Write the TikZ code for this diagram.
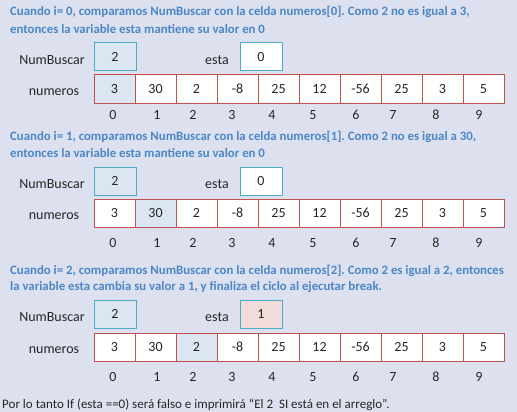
\documentclass[tikz,border=0pt]{standalone}
\usepackage{fontspec}
\setmainfont{Carlito}
\usepackage{tikz}
\usetikzlibrary{positioning}
\frenchspacing

\definecolor{fondo}{RGB}{221,225,239}
\definecolor{azul}{RGB}{74,134,200}
\definecolor{turquesa}{RGB}{75,172,198}
\definecolor{rojo}{RGB}{192,80,77}
\definecolor{celeste}{RGB}{220,230,242}
\definecolor{rosa}{RGB}{242,220,219}
\definecolor{oscuro}{RGB}{38,38,38}

\begin{document}
\begin{tikzpicture}[x=1pt,y=-1pt]
\tikzset{font=\fontsize{14}{16}\selectfont}
\tikzset{every node/.style={text=oscuro}}
\tikzset{celda/.style={draw=rojo, line width=1pt, minimum width=41pt, minimum height=28pt, inner sep=0pt}}
\tikzset{caja/.style={draw=turquesa, line width=1pt, minimum width=42pt, minimum height=28pt, inner sep=0pt}}
\tikzset{titulo/.style={anchor=west, inner sep=0pt, text=azul, font=\bfseries\fontsize{12.8}{15}\selectfont}}
\fill[fondo] (0,0) rectangle (517,412);
\useasboundingbox (0,0) rectangle (517,412);

% enunciados
\node[titulo] (t0a) at (10,12) {Cuando i= 0, comparamos NumBuscar con la celda numeros[0]. Como 2 no es igual a 3,};
\node[titulo] (t0b) at (10,29) {entonces la variable esta mantiene su valor en 0};
\node[titulo] (t1a) at (10,137) {Cuando i= 1, comparamos NumBuscar con la celda numeros[1]. Como 2 no es igual a 30,};
\node[titulo] (t1b) at (10,153) {entonces la variable esta mantiene su valor en 0};
\node[titulo] (t2a) at (10,271) {Cuando i= 2, comparamos NumBuscar con la celda numeros[2]. Como 2 es igual a 2, entonces};
\node[titulo] (t2b) at (10,287) {la variable esta cambia su valor a 1, y finaliza el ciclo al ejecutar break.};

% variables y arreglo
\foreach \s/\yb/\ya/\yi/\v/\f in {0/57/89/115/0/white, 1/181/213/243/0/white, 2/314/347/377/1/rosa} {
  \node (lnb\s) at (52,\yb+3) {NumBuscar};
  \node[caja, fill=celeste] (nb\s) at (115,\yb) {2};
  \node (les\s) at (217,\yb+3) {esta};
  \node[caja, fill=\f] (es\s) at (261,\yb) {\v};
  \node (lnu\s) at (54,\ya+3) {numeros};
  \foreach \n/\xi [count=\i from 0] in {3/113,30/157,2/193,-8/232,25/272,12/313,-56/356,25/393,3/436,5/479} {
    \ifnum\i=\s \def\relleno{celeste}\else\def\relleno{white}\fi
    \node[celda, fill=\relleno] (c\s-\i) at (114.5+41*\i,\ya) {\n};
    \node (i\s-\i) at (\xi,\yi) {\i};
  }
}

\node[anchor=west, inner sep=0pt, font=\fontsize{13}{15}\selectfont] (fin) at (2,405) {Por lo tanto If (esta ==0) será falso e imprimirá “El 2\ \ SI está en el arreglo”.};
\end{tikzpicture}
\end{document}
